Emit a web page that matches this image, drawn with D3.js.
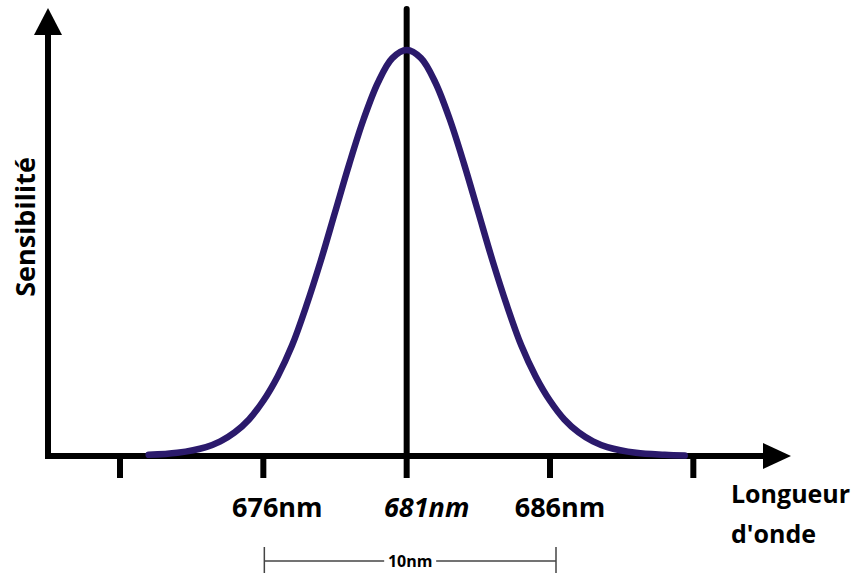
<!DOCTYPE html>
<html><head><meta charset="utf-8">
<script src="https://cdn.jsdelivr.net/npm/d3@7"></script>
<style>html,body{margin:0;padding:0;background:#fff;}svg{display:block;}</style>
</head><body>
<svg id="c" width="860" height="573"></svg>
<script>
// Data
const wavelengths = [672,673,674,674.5,675,675.5,676,676.5,677,677.5,678,678.5,679,679.5,680,680.5,681,681.5,682,682.5,683,683.5,684,684.5,685,685.5,686,686.5,687,687.5,688,689,690,690.7];
const sensitivity = [0.003,0.008,0.022,0.036,0.058,0.090,0.136,0.196,0.272,0.370,0.480,0.600,0.720,0.830,0.920,0.980,1.000,0.980,0.920,0.830,0.720,0.600,0.480,0.370,0.272,0.196,0.136,0.090,0.058,0.036,0.022,0.008,0.003,0.001];
const tickValues = [671,676,681,686,691];
const tickLabels = ["", "676nm", "681nm", "686nm", ""];
const peakWavelength = 681;
const spanLabel = "10nm";
const spanRange = [676,686];
const yLabel = "Sensibilité";
const xLabelLines = ["Longueur", "d'onde"];

const svg = d3.select("#c");
const x = d3.scaleLinear().domain([671,686]).range([120,550]);
const y = d3.scaleLinear().domain([0,1]).range([456,50]);
const font = "'Open Sans', 'DejaVu Sans', sans-serif";

// x axis line + arrow
svg.append("line").attr("x1",45).attr("x2",768).attr("y1",y(0)).attr("y2",y(0))
  .attr("stroke","#000").attr("stroke-width",6);
svg.append("path").attr("d",`M763,${y(0)-13}L791,${y(0)}L763,${y(0)+13}Z`).attr("fill","#000");
// y axis line + arrow
svg.append("line").attr("x1",48).attr("x2",48).attr("y1",y(0)+3).attr("y2",30)
  .attr("stroke","#000").attr("stroke-width",6);
svg.append("path").attr("d",`M34,35L48,8L62,35Z`).attr("fill","#000");

// ticks
svg.selectAll("line.tick").data(tickValues).join("line").attr("class","tick")
  .attr("x1",d=>x(d)).attr("x2",d=>x(d)).attr("y1",y(0)).attr("y2",478)
  .attr("stroke","#000").attr("stroke-width",6);

// peak vertical line
svg.append("line").attr("x1",x(peakWavelength)).attr("x2",x(peakWavelength))
  .attr("y1",9).attr("y2",y(0)).attr("stroke","#000").attr("stroke-width",6)
  .attr("stroke-linecap","round");

// curve
const pts = wavelengths.map((w,i)=>[w,sensitivity[i]]);
svg.append("path").datum(pts)
  .attr("d", d3.line().x(d=>x(d[0])).y(d=>y(d[1])).curve(d3.curveCatmullRom))
  .attr("fill","none").attr("stroke","#2b1a6c").attr("stroke-width",6.5)
  .attr("stroke-linecap","round");

// tick labels
const dx = {676:14, 681:20, 686:10};
svg.selectAll("text.tl").data(tickValues.map((v,i)=>({v,l:tickLabels[i]})).filter(d=>d.l))
  .join("text").attr("class","tl")
  .attr("x",d=>x(d.v)+(dx[d.v]||0)).attr("y",517)
  .attr("text-anchor","middle").attr("font-family",font).attr("font-weight","bold")
  .attr("font-size",27).attr("font-style",d=>d.v===peakWavelength?"italic":"normal")
  .attr("fill","#000").text(d=>d.l);

// span bracket
const sx0 = x(spanRange[0])+1, sx1 = x(spanRange[1])+6, sy = 561;
const mid = (sx0+sx1)/2;
const g = svg.append("g").attr("stroke","#444").attr("stroke-width",1.5);
g.append("line").attr("x1",sx0).attr("x2",sx0).attr("y1",547).attr("y2",573);
g.append("line").attr("x1",sx1).attr("x2",sx1).attr("y1",547).attr("y2",573);
g.append("line").attr("x1",sx0).attr("x2",mid-26).attr("y1",sy).attr("y2",sy);
g.append("line").attr("x1",mid+26).attr("x2",sx1).attr("y1",sy).attr("y2",sy);
svg.append("text").attr("x",mid).attr("y",567).attr("text-anchor","middle")
  .attr("font-family",font).attr("font-weight","bold").attr("font-size",16)
  .attr("fill","#000").text(spanLabel);

// axis titles
svg.append("text").attr("transform","translate(35,227) rotate(-90)")
  .attr("text-anchor","middle").attr("font-family",font).attr("font-weight","bold")
  .attr("font-size",27).attr("fill","#000").text(yLabel);
svg.selectAll("text.xl").data(xLabelLines).join("text").attr("class","xl")
  .attr("x",731).attr("y",(d,i)=>503+i*40)
  .attr("font-family",font).attr("font-weight","bold").attr("font-size",25)
  .attr("fill","#000").text(d=>d);
</script>
</body></html>
